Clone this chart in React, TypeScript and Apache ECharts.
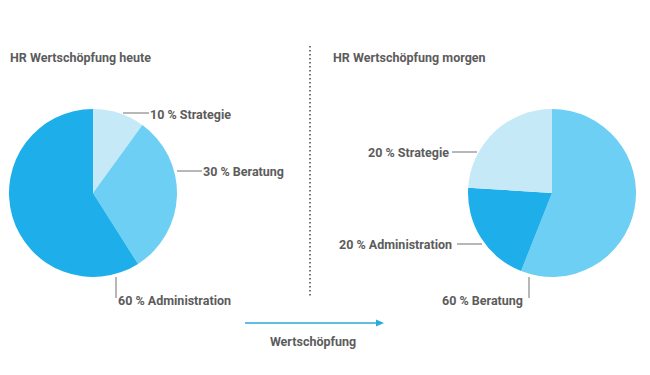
import React, { useEffect, useRef } from "react";
import * as echarts from "echarts";

const titles = ["HR Wertschöpfung heute", "HR Wertschöpfung morgen"];
const todayCategories = ["Strategie", "Beratung", "Administration"];
const todayValues = [10, 31, 59];
const todayLabels = ["10 % Strategie", "30 % Beratung", "60 % Administration"];
const tomorrowCategories = ["Beratung", "Administration", "Strategie"];
const tomorrowValues = [56, 20, 24];
const tomorrowLabels = ["60 % Beratung", "20 % Administration", "20 % Strategie"];
const axisCaption = "Wertschöpfung";

const colorMap: Record<string, string> = {
  Strategie: "#c6e9f8",
  Beratung: "#6dcff4",
  Administration: "#1eaeea",
};

const FONT = "Roboto, 'DejaVu Sans', sans-serif";
const TEXT = "#5c5c5c";

// label placements (text anchor, alignment, leader line points)
const todayLayout = [
  { x: 150, y: 114, align: "left", pts: [[123, 113], [136, 113], [149, 113]] },
  { x: 203, y: 171, align: "left", pts: [[177, 171], [190, 171], [202, 171]] },
  { x: 118, y: 300, align: "left", pts: [[116, 277], [116, 288], [116, 298]] },
];
const tomorrowLayout = [
  { x: 523, y: 300, align: "right", pts: [[529, 277], [529, 288], [529, 298]] },
  { x: 452, y: 244, align: "right", pts: [[457, 244], [470, 244], [482, 244]] },
  { x: 449, y: 152, align: "right", pts: [[452, 152], [465, 152], [477, 152]] },
];

function makeSeries(
  name: string,
  cats: string[],
  vals: number[],
  labels: string[],
  center: [number, number],
  layout: any[]
) {
  return {
    name,
    type: "pie",
    center,
    radius: 84,
    startAngle: 90,
    clockwise: true,
    avoidLabelOverlap: false,
    silent: true,
    data: cats.map((c, i) => ({
      name: c,
      value: vals[i],
      itemStyle: { color: colorMap[c] },
      label: { formatter: labels[i] },
    })),
    itemStyle: { borderWidth: 0 },
    label: {
      show: true,
      color: TEXT,
      fontFamily: FONT,
      fontSize: 12.5,
      fontWeight: "bold",
    },
    labelLine: {
      show: true,
      length: 5,
      length2: 5,
      lineStyle: { color: "#707070", width: 1 },
    },
    labelLayout: (params: any) => {
      const l = layout[params.dataIndex];
      return {
        x: l.x,
        y: l.y,
        align: l.align,
        verticalAlign: "middle",
        labelLinePoints: l.pts,
      };
    },
  };
}

export default function App() {
  const ref = useRef<HTMLDivElement>(null);
  useEffect(() => {
    if (!ref.current) return;
    const chart = echarts.init(ref.current, undefined, { renderer: "svg" });
    chart.setOption({
      animation: false,
      backgroundColor: "#ffffff",
      title: [
        {
          text: titles[0],
          left: 10,
          top: 51,
          padding: 0,
          textStyle: { color: TEXT, fontFamily: FONT, fontSize: 12.5, fontWeight: "bold" },
        },
        {
          text: titles[1],
          left: 333,
          top: 51,
          padding: 0,
          textStyle: { color: TEXT, fontFamily: FONT, fontSize: 12.5, fontWeight: "bold" },
        },
      ],
      series: [
        makeSeries("heute", todayCategories, todayValues, todayLabels, [93, 193], todayLayout),
        makeSeries("morgen", tomorrowCategories, tomorrowValues, tomorrowLabels, [552, 193], tomorrowLayout),
      ],
      graphic: [
        {
          type: "line",
          shape: { x1: 310, y1: 46, x2: 310, y2: 296 },
          style: { stroke: "#444", lineWidth: 1.5, lineDash: [1.5, 2.5] },
        },
        {
          type: "line",
          shape: { x1: 245, y1: 323, x2: 378, y2: 323 },
          style: { stroke: "#2aa9dc", lineWidth: 1.3 },
        },
        {
          type: "polygon",
          shape: { points: [[376, 319.5], [384, 323], [376, 326.5]] },
          style: { fill: "#2aa9dc" },
        },
        {
          type: "text",
          x: 313,
          y: 341,
          style: {
            text: axisCaption,
            fill: TEXT,
            font: `bold 12.5px ${FONT}`,
            align: "center",
            verticalAlign: "middle",
          },
        },
      ],
    });
    return () => chart.dispose();
  }, []);
  return (
    <div
      ref={ref}
      style={{ position: "fixed", left: 0, top: 0, width: 650, height: 375 }}
    />
  );
}
